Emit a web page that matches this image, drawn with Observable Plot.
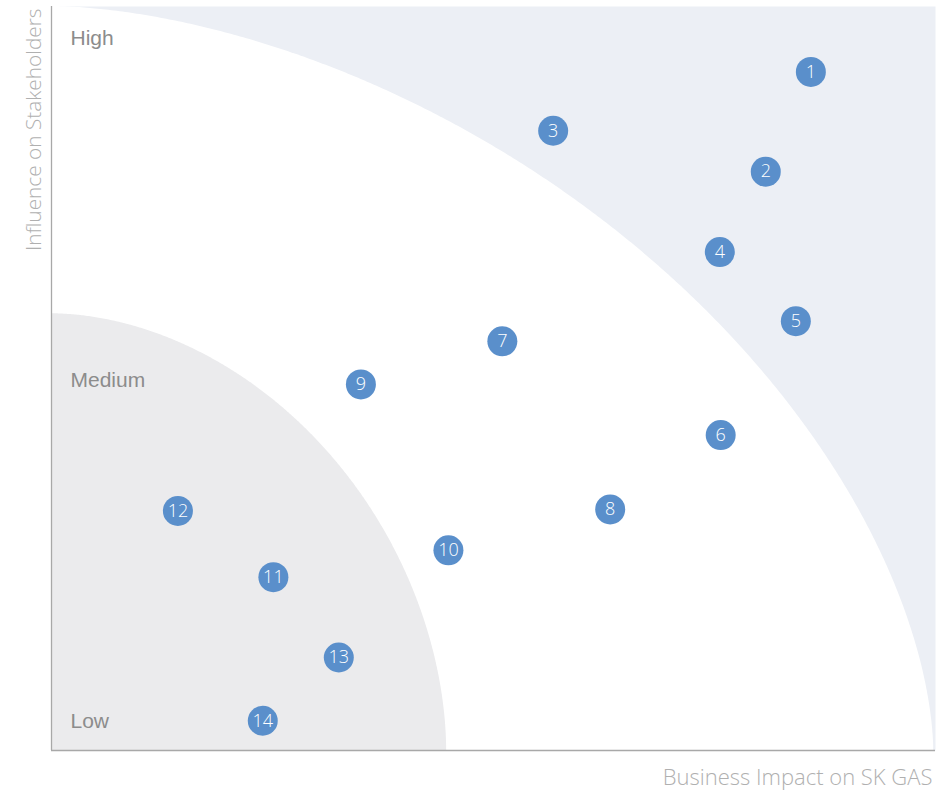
<!DOCTYPE html>
<html>
<head>
<meta charset="utf-8">
<script src="https://cdn.jsdelivr.net/npm/d3@7"></script>
<script src="https://cdn.jsdelivr.net/npm/@observablehq/plot@0.6"></script>
<style>
  html, body { margin: 0; padding: 0; background: #fff; }
  #chart svg { display: block; }
</style>
</head>
<body>
<div id="chart"></div>
<script>
// Issue ids and positions (Business Impact = x, Influence = y), 0–100 scale
const ids       = ["1","2","3","4","5","6","7","8","9","10","11","12","13","14"];
const impact    = [85.9, 80.8, 56.75, 75.6, 84.2, 75.7, 51.0, 63.2, 35.0, 44.9, 25.1, 14.3, 32.5, 23.9];
const influence = [91.2, 77.8, 83.3, 67.0, 57.7, 42.4, 55.0, 32.4, 49.2, 26.9, 23.3, 32.2, 12.5, 4.0];

// Level labels
const levelNames  = ["High", "Medium", "Low"];
const levelValues = [95.7, 49.8, 3.9];

// Zone boundaries (quarter superellipses from the origin): radius x, radius y, exponent
const outerZone = {rx: 99.8, ry: 100, n: 1.73};
const innerZone = {rx: 44.7, ry: 58.7, n: 1.88};

const xLabel = "Business Impact on SK GAS";
const yLabel = "Influence on Stakeholders";

const points = ids.map((id, i) => ({id, x: impact[i], y: influence[i]}));
const levels = levelNames.map((name, i) => ({name, y: levelValues[i]}));

function zone({rx, ry, n}) {
  const out = [];
  const N = 400;
  for (let k = 0; k <= N; k++) {
    const t = (k / N) * Math.PI / 2;
    out.push({x: rx * Math.pow(Math.cos(t), 2 / n), y: ry * Math.pow(Math.sin(t), 2 / n)});
  }
  return out;
}

const font = "'Open Sans', 'Helvetica Neue', Helvetica, Arial, sans-serif";
const levelFont = "'Liberation Sans', Helvetica, Arial, sans-serif";

const chart = Plot.plot({
  width: 936,
  height: 791,
  marginTop: 6,
  marginLeft: 51,
  marginRight: 1,
  marginBottom: 41,
  x: {domain: [0, 100], axis: null},
  y: {domain: [0, 100], axis: null},
  style: {fontFamily: font, background: "#fff"},
  marks: [
    Plot.frame({fill: "#eceff5", stroke: null}),
    Plot.areaY(zone(outerZone), {x: "x", y: "y", fill: "#ffffff", curve: "linear"}),
    Plot.areaY(zone(innerZone), {x: "x", y: "y", fill: "#ebebed", curve: "linear"}),
    Plot.ruleX([0], {stroke: "#a8a8a8", strokeWidth: 1.3}),
    Plot.ruleY([0], {stroke: "#a8a8a8", strokeWidth: 1.3}),
    Plot.text(levels, {x: 0, y: "y", text: "name", textAnchor: "start", dx: 19,
      fontSize: 21, fill: "#8c8c8c", fontFamily: levelFont}),
    Plot.dot(points, {x: "x", y: "y", r: 15, fill: "#5a8fcb", stroke: null}),
    Plot.text(points, {x: "x", y: "y", text: "id", fill: "#ffffff", fontSize: 18, fontWeight: 300}),
    Plot.text([xLabel], {frameAnchor: "bottom-right", textAnchor: "end", lineAnchor: "middle",
      dx: -3, dy: 27, fontSize: 22, fill: "#b0b0b0", fontWeight: 300}),
    Plot.text([yLabel], {frameAnchor: "top-left", rotate: -90, textAnchor: "end", lineAnchor: "middle",
      dx: -17, dy: 2, fontSize: 20.8, fill: "#b0b0b0", fontWeight: 300})
  ]
});

document.getElementById("chart").appendChild(chart);
</script>
</body>
</html>
